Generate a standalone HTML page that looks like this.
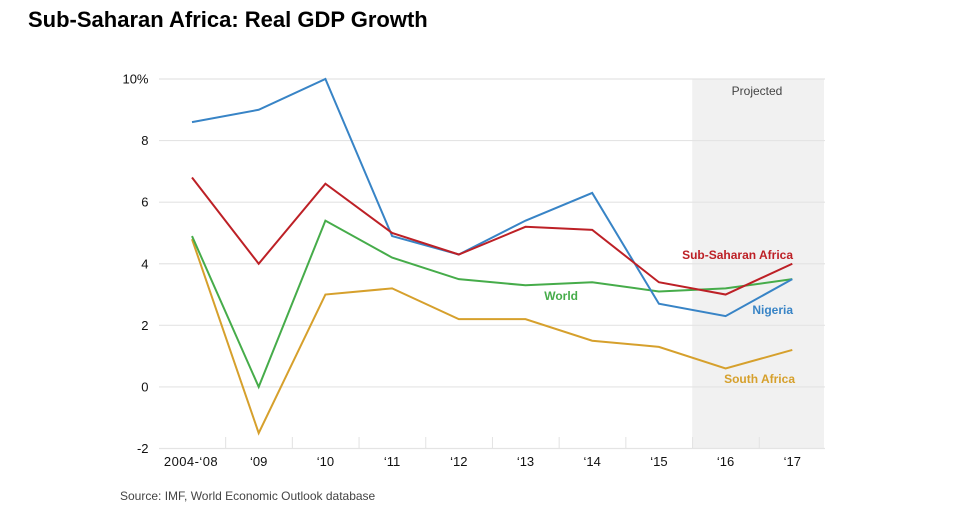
<!DOCTYPE html>
<html lang="en">
<head>
<meta charset="utf-8">
<title>Sub-Saharan Africa: Real GDP Growth</title>
<style>
html,body{margin:0;padding:0;background:#fff;width:971px;height:513px;overflow:hidden}
svg{display:block}
text{font-family:"Liberation Sans",Arial,sans-serif}
</style>
</head>
<body>
<svg id="chart" xmlns="http://www.w3.org/2000/svg" width="971" height="513" viewBox="0 0 971 513">
<text x="28" y="27" font-size="22" font-weight="bold" fill="#000">Sub-Saharan Africa: Real GDP Growth</text>
<g id="plot"></g>
<text x="120" y="500" font-size="12" fill="#444">Source: IMF, World Economic Outlook database</text>
</svg>
<script>
const categories = ["2004-\u201808","\u201809","\u201810","\u201811","\u201812","\u201813","\u201814","\u201815","\u201816","\u201817"];
const yTicks = [10,8,6,4,2,0,-2];
const nigeria = [8.6,9.0,10.0,4.9,4.3,5.4,6.3,2.7,2.3,3.5];
const subSaharanAfrica = [6.8,4.0,6.6,5.0,4.3,5.2,5.1,3.4,3.0,4.0];
const world = [4.9,0.0,5.4,4.2,3.5,3.3,3.4,3.1,3.2,3.5];
const southAfrica = [4.8,-1.5,3.0,3.2,2.2,2.2,1.5,1.3,0.6,1.2];
const projectedFrom = 8;

const NS = "http://www.w3.org/2000/svg";
const plot = document.getElementById("plot");
const x = i => 192 + i * (792.3 - 192) / (categories.length - 1);
const y = v => 79 + (10 - v) * (448.5 - 79) / 12;
function make(tag, attrs, text) {
  const el = document.createElementNS(NS, tag);
  for (const k in attrs) el.setAttribute(k, attrs[k]);
  if (text !== undefined) el.textContent = text;
  plot.appendChild(el);
  return el;
}

const bandLeft = (x(projectedFrom - 1) + x(projectedFrom)) / 2;
const band = make("rect", {x: bandLeft, y: y(10), width: 824 - bandLeft, height: y(-2) - y(10), fill: "#f1f1f1"});


const bandLabel = make("text", {x: 757, y: 95, "font-size": 12, fill: "#444", "text-anchor": "middle"}, "Projected");



yTicks.forEach(t => {
  const g = make("line", {x1: 159, x2: 825, y1: y(t), y2: y(t), stroke: "#e4e4e4", "stroke-width": 1.2});
  
  
  const l = make("text", {x: 148.5, y: y(t) + 4.5, "font-size": 13, fill: "#111", "text-anchor": "end"}, t === 10 ? "10%" : String(t));
  
  
});

categories.forEach((c, i) => {
  const attrs = {x: i === 0 ? 191 : x(i), y: 466, "font-size": 13, fill: "#111", "text-anchor": "middle"};
  if (i === 0) attrs["letter-spacing"] = "0.45";
  const l = make("text", attrs, c);
  
  
  if (i < categories.length - 1) {
    const mid = (x(i) + x(i + 1)) / 2 + 0.3;
    const t = make("line", {x1: mid, x2: mid, y1: 437, y2: 448, stroke: "#e2e2e2", "stroke-width": 1});
    
    
  }
});

function drawSeries(values, color, name) {
  const p = make("polyline", {
    points: values.map((v, i) => x(i) + "," + y(v)).join(" "),
    fill: "none", stroke: color, "stroke-width": 2, "stroke-linejoin": "miter"
  });
  
  
}
drawSeries(southAfrica, "#d6a02c", "south-africa-line");
drawSeries(world, "#46ac4a", "world-line");
drawSeries(nigeria, "#3884c6", "nigeria-line");
drawSeries(subSaharanAfrica, "#bd2026", "sub-saharan-africa-line");

function seriesLabel(text, px, py, color, name) {
  const l = make("text", {x: px, y: py, "font-size": 12, "font-weight": "bold", fill: color, "text-anchor": "end"}, text);
  
  
}
seriesLabel("Sub-Saharan Africa", 793, 259, "#bd2026", "sub-saharan-africa-label");
seriesLabel("World", 578, 300, "#46ac4a", "world-label");
seriesLabel("Nigeria", 793, 314, "#3884c6", "nigeria-label");
seriesLabel("South Africa", 795, 383, "#d6a02c", "south-africa-label");
</script>
</body>
</html>
